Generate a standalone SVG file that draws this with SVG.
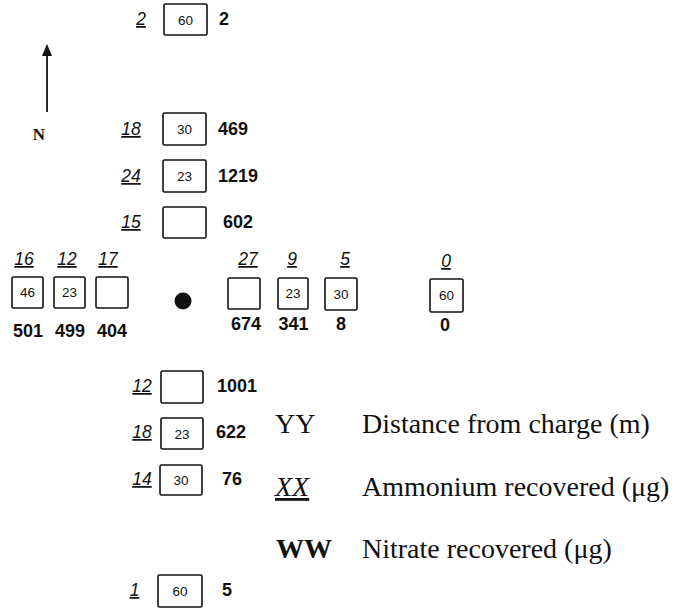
<svg xmlns="http://www.w3.org/2000/svg" width="688" height="610" viewBox="0 0 688 610">
<style>
.box{fill:#fff;stroke:#111;stroke-width:1.6}
.bt{font-family:"Liberation Sans",Arial,sans-serif;font-size:13.5px;text-anchor:middle;fill:#111}
.am{font-family:"Liberation Sans",Arial,sans-serif;font-size:17.5px;font-style:italic;text-anchor:middle;fill:#111;text-decoration:underline}
.ni{font-family:"Liberation Sans",Arial,sans-serif;font-size:18px;font-weight:bold;fill:#111}
.nc{text-anchor:middle}
.lg{font-family:"Liberation Serif","Times New Roman",serif;font-size:28px;fill:#111}
</style>
<rect width="688" height="610" fill="#fff"/>

<g id="north">
<line x1="47" y1="54" x2="47" y2="112" stroke="#111" stroke-width="1.8"/>
<polygon points="47,44 42,56 52,56" fill="#111"/>
<text x="39" y="140" font-family="Liberation Serif,serif" font-weight="bold" font-size="17" text-anchor="middle" fill="#111">N</text>
</g>

<g id="connectors"></g>

<!-- north column -->
<g id="n-top60">
<text class="am" x="141" y="25">2</text>
<rect class="box" x="164" y="4" width="43" height="31" rx="1.5"/>
<text class="bt" x="185.5" y="24.5">60</text>
<text class="ni" x="219" y="25">2</text>
</g>
<g id="n-30">
<text class="am" x="131" y="135">18</text>
<rect class="box" x="163" y="113" width="43" height="32" rx="1.5"/>
<text class="bt" x="184.5" y="134">30</text>
<text class="ni" x="218" y="135">469</text>
</g>
<g id="n-23">
<text class="am" x="131" y="182">24</text>
<rect class="box" x="163" y="160" width="43" height="32" rx="1.5"/>
<text class="bt" x="184.5" y="181">23</text>
<text class="ni" x="218" y="182">1219</text>
</g>
<g id="n-15">
<text class="am" x="131" y="228">15</text>
<rect class="box" x="163" y="207" width="43" height="31" rx="1.5"/>
<text class="ni" x="223" y="228">602</text>
</g>

<!-- west row -->
<g id="w-46">
<text class="am" x="24" y="265">16</text>
<rect class="box" x="12" y="277" width="31" height="31" rx="1.5"/>
<text class="bt" x="27.5" y="297">46</text>
<text class="ni nc" x="28" y="337">501</text>
</g>
<g id="w-23">
<text class="am" x="67" y="265">12</text>
<rect class="box" x="54" y="277" width="31" height="31" rx="1.5"/>
<text class="bt" x="69.5" y="297">23</text>
<text class="ni nc" x="70" y="337">499</text>
</g>
<g id="w-17">
<text class="am" x="108" y="265">17</text>
<rect class="box" x="96" y="277" width="32" height="31" rx="1.5"/>
<text class="ni nc" x="112" y="337">404</text>
</g>

<g id="charge">
<circle cx="183" cy="301" r="8.5" fill="#111"/>
</g>

<!-- east row -->
<g id="e-27">
<text class="am" x="248" y="265">27</text>
<rect class="box" x="228" y="278" width="32" height="31" rx="1.5"/>
<text class="ni nc" x="246" y="330">674</text>
</g>
<g id="e-23">
<text class="am" x="292" y="265">9</text>
<rect class="box" x="278" y="278" width="30" height="31" rx="1.5"/>
<text class="bt" x="293" y="298">23</text>
<text class="ni nc" x="293.5" y="330">341</text>
</g>
<g id="e-30">
<text class="am" x="345" y="265">5</text>
<rect class="box" x="325" y="278" width="32" height="32" rx="1.5"/>
<text class="bt" x="341" y="299">30</text>
<text class="ni nc" x="341" y="330">8</text>
</g>
<g id="e-60">
<text class="am" x="446" y="267">0</text>
<rect class="box" x="430" y="279" width="33" height="33" rx="1.5"/>
<text class="bt" x="446.5" y="300">60</text>
<text class="ni nc" x="445" y="331">0</text>
</g>

<!-- south column -->
<g id="s-12">
<text class="am" x="142" y="392">12</text>
<rect class="box" x="161" y="371" width="42" height="32" rx="1.5"/>
<text class="ni" x="217" y="392">1001</text>
</g>
<g id="s-23">
<text class="am" x="142" y="438">18</text>
<rect class="box" x="161" y="418" width="42" height="31" rx="1.5"/>
<text class="bt" x="182" y="439">23</text>
<text class="ni" x="216" y="438">622</text>
</g>
<g id="s-30">
<text class="am" x="142" y="485">14</text>
<rect class="box" x="160" y="465" width="42" height="30" rx="1.5"/>
<text class="bt" x="181" y="485">30</text>
<text class="ni" x="222" y="485">76</text>
</g>
<g id="s-60">
<text class="am" x="134.5" y="596">1</text>
<rect class="box" x="158" y="575" width="44" height="32" rx="1.5"/>
<text class="bt" x="180" y="596">60</text>
<text class="ni" x="222" y="596">5</text>
</g>

<g id="legend">
<text class="lg" x="275" y="433">YY</text>
<text class="lg" x="362" y="433">Distance from charge (m)</text>
<text class="lg" x="275" y="496" font-style="italic" text-decoration="underline">XX</text>
<text class="lg" x="362" y="496">Ammonium recovered (μg)</text>
<text class="lg" x="276" y="558" font-weight="bold">WW</text>
<text class="lg" x="362" y="558">Nitrate recovered (μg)</text>
</g>
</svg>
